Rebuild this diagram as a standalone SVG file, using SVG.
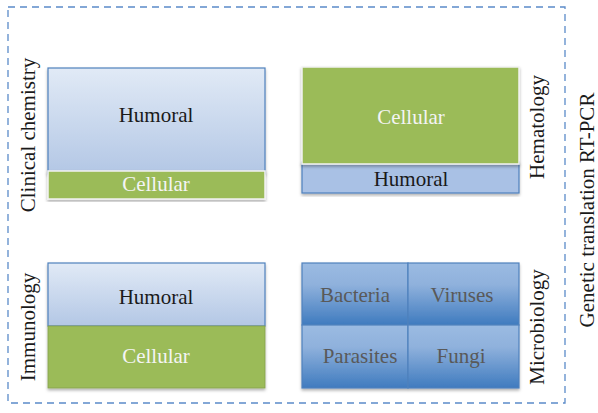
<svg xmlns="http://www.w3.org/2000/svg" width="598" height="413" viewBox="0 0 598 413">
<style>
text{font-family:"Liberation Serif","Times New Roman",serif;font-size:21px;text-anchor:middle;dominant-baseline:central}
.dark{fill:#1a1a1a}
.light{fill:#f4f4f4}
.grey{fill:#595959}
.lbl{fill:#1a1a1a}
.blueEdge{stroke:#4f81bd;stroke-width:1.2}
.green{fill:#9bbb59}
.whiteEdge{stroke:#f2f2f2;stroke-width:1.5}
</style>
<defs>
<linearGradient id="hum" x1="0" y1="0" x2="0" y2="1">
<stop offset="0" stop-color="#e1eaf6"/>
<stop offset="1" stop-color="#b3c7e5"/>
</linearGradient>
<linearGradient id="cell" x1="0" y1="0" x2="0" y2="1">
<stop offset="0" stop-color="#9bbbe2"/>
<stop offset="0.35" stop-color="#8fb1dc"/>
<stop offset="1" stop-color="#3f7bbf"/>
</linearGradient>
<filter id="sh" x="-5%" y="-5%" width="110%" height="115%">
<feDropShadow dx="0" dy="2" stdDeviation="1.5" flood-color="#000" flood-opacity="0.3"/>
</filter>
</defs>
<rect x="8" y="7" width="557" height="396" fill="none" stroke="#5b8bc9" stroke-width="1.3" stroke-dasharray="7,5"/>
<g id="clinical-chemistry">
<rect x="48" y="68" width="217" height="106" fill="url(#hum)" class="blueEdge" filter="url(#sh)"/>
<text x="156" y="115" class="dark">Humoral</text>
<rect x="48" y="171" width="217" height="28" class="green whiteEdge" filter="url(#sh)"/>
<text x="156" y="184" class="light">Cellular</text>
<text transform="translate(28,135) rotate(-90)" class="lbl">Clinical chemistry</text>
</g>
<g id="hematology">
<rect x="302" y="162" width="217" height="31" fill="#a9c1e5" class="blueEdge" filter="url(#sh)"/>
<text x="411" y="179" class="dark">Humoral</text>
<rect x="302" y="67" width="217" height="97" class="green whiteEdge" filter="url(#sh)"/>
<text x="411" y="117" class="light">Cellular</text>
<text transform="translate(537,127) rotate(-90)" class="lbl">Hematology</text>
</g>
<g id="immunology">
<g filter="url(#sh)">
<rect x="48" y="263" width="217" height="63" fill="url(#hum)" class="blueEdge"/>
<rect x="48" y="326" width="217" height="62" class="green" stroke="#86a04a" stroke-width="0.8"/>
</g>
<text x="156" y="297" class="dark">Humoral</text>
<text x="156" y="356" class="light">Cellular</text>
<text transform="translate(28,327) rotate(-90)" class="lbl">Immunology</text>
</g>
<g id="microbiology">
<g filter="url(#sh)">
<rect x="302" y="263" width="106" height="62" fill="url(#cell)" class="blueEdge"/>
<rect x="408" y="263" width="111" height="62" fill="url(#cell)" class="blueEdge"/>
<rect x="302" y="325" width="106" height="63" fill="url(#cell)" class="blueEdge"/>
<rect x="408" y="325" width="111" height="63" fill="url(#cell)" class="blueEdge"/>
</g>
<text x="355" y="295" class="grey">Bacteria</text>
<text x="462" y="295" class="grey">Viruses</text>
<text x="360" y="356" class="grey">Parasites</text>
<text x="461" y="356" class="grey">Fungi</text>
<text transform="translate(537,327) rotate(-90)" class="lbl">Microbiology</text>
</g>
<g id="genetic">
<text transform="translate(587,210) rotate(-90)" class="lbl">Genetic translation RT-PCR</text>
</g>
<g id="connectors"/>
</svg>
